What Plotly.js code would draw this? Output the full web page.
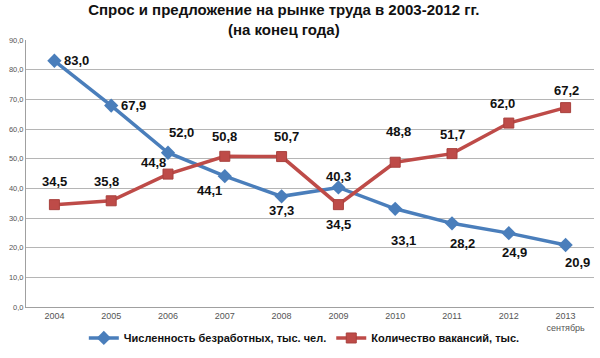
<!DOCTYPE html>
<html>
<head>
<meta charset="utf-8">
<script src="https://cdn.plot.ly/plotly-3.0.1.min.js"></script>
<style>html,body{margin:0;padding:0;background:#fff}#chart{width:600px;height:358px}</style>
</head>
<body>
<div id="chart"></div>
<script>
var years = ['2004','2005','2006','2007','2008','2009','2010','2011','2012','2013'];
var yearLabels = ['2004','2005','2006','2007','2008','2009','2010','2011','2012','2013<br>сентябрь'];
var unemployed = [83.0, 67.9, 52.0, 44.1, 37.3, 40.3, 33.1, 28.2, 24.9, 20.9];
var vacancies = [34.5, 35.8, 44.8, 50.8, 50.7, 34.5, 48.8, 51.7, 62.0, 67.2];
var nameUnemployed = 'Численность безработных, тыс. чел.';
var nameVacancies = 'Количество вакансий, тыс.';
var titleText = 'Спрос и предложение на рынке труда в 2003-2012 гг.<br>(на конец года)';

// label placement (pixel offsets), style only
var shiftBlue = [[22,0],[22,0],[13,20],[-15,-14],[0,-14],[0,11],[8,-32],[10,-20],[6,-19],[12,-17]];
var shiftRed = [[0,23],[-5,19],[-15,12],[0,20],[5,20],[0,-20],[3,31],[0,19],[-6,20],[1,17]];

var blue = '#4A7EBB', red = '#BE4B48';
function fmt(v){ return v.toFixed(1).replace('.', ','); }

var annotations = [];
function addLabels(vals, shifts){
  vals.forEach(function(v,i){
    annotations.push({x: i, y: v, xref:'x', yref:'y', text: '<b>' + fmt(v) + '</b>', showarrow:false,
      xshift: shifts[i][0], yshift: shifts[i][1],
      font:{family:'Arial, Liberation Sans, sans-serif', size:13, color:'#111'}});
  });
}
addLabels(unemployed, shiftBlue);
addLabels(vacancies, shiftRed);

var traces = [
  {x: years, y: unemployed, name: '<b>' + nameUnemployed + '</b>', type:'scatter', mode:'lines+markers',
   line:{color: blue, width:3.5}, marker:{symbol:'diamond', size:11, color: blue}},
  {x: years, y: vacancies, name: '<b>' + nameVacancies + '</b>', type:'scatter', mode:'lines+markers',
   line:{color: red, width:3.5}, marker:{symbol:'square', size:10, color: red, line:{color:'#A8403D', width:1}}}
];

var layout = {
  width:600, height:358,
  margin:{l:26, r:6, t:40, b:42},
  paper_bgcolor:'#fff', plot_bgcolor:'#fff',
  separators: ',.',
  showlegend:true,
  title:{text:'<b>' + titleText + '</b>', x:0.473, xanchor:'center', xref:'container', yref:'container', y:0.957, yanchor:'middle',
    font:{family:'Arial, Liberation Sans, sans-serif', size:15, color:'#111'}},
  xaxis:{type:'category', tickvals: years, ticktext: yearLabels, showgrid:false, zeroline:false,
    showline:true, linecolor:'#a0a0a0', linewidth:1, ticks:'', ticklen:0,
    tickfont:{family:'Arial, Liberation Sans, sans-serif', size:9, color:'#555'},
    range:[-0.5, 9.5]},
  yaxis:{range:[0,90], dtick:10, tickformat:'.1f', showgrid:true, gridcolor:'#b5b5b5', gridwidth:1,
    zeroline:false, showline:true, linecolor:'#a0a0a0', linewidth:1, ticks:'',
    tickfont:{family:'Arial, Liberation Sans, sans-serif', size:7.5, color:'#555'}},
  legend:{orientation:'h', x:0.49, xanchor:'center', y:-0.116, yanchor:'middle',
    font:{family:'Arial, Liberation Sans, sans-serif', size:11, color:'#111'},
    itemwidth:30, bgcolor:'rgba(0,0,0,0)'},
  annotations: annotations
};

Plotly.newPlot('chart', traces, layout, {displayModeBar:false, staticPlot:true});
</script>
</body>
</html>
